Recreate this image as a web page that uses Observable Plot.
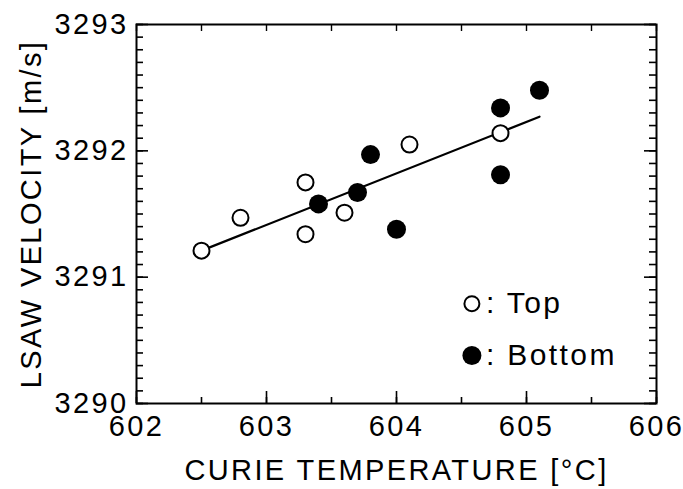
<!DOCTYPE html>
<html><head><meta charset="utf-8">
<script src="https://cdn.jsdelivr.net/npm/d3@7"></script>
<script src="https://cdn.jsdelivr.net/npm/@observablehq/plot@0.6"></script>
<style>
body{margin:0;background:#fff}
#chart svg{font-family:"Liberation Sans",Arial,Helvetica,sans-serif;letter-spacing:2.4px}
</style>
</head><body><div id="chart"></div>
<script>
const topX = [602.5, 602.8, 603.3, 603.3, 603.6, 604.1, 604.8];
const topY = [3291.21, 3291.47, 3291.75, 3291.34, 3291.51, 3292.05, 3292.14];
const bottomX = [603.4, 603.7, 603.8, 604.0, 604.8, 604.8, 605.1];
const bottomY = [3291.58, 3291.67, 3291.97, 3291.38, 3292.34, 3291.81, 3292.48];
const fitX = [602.5, 605.1];
const fitY = [3291.21, 3292.27];
const xTicks = [602, 603, 604, 605, 606];
const yTicks = [3290, 3291, 3292, 3293];
const xTitle = "CURIE TEMPERATURE [°C]";
const yTitle = "LSAW VELOCITY [m/s]";
const legendLabels = [": Top", ": Bottom"];
const legendX = [604.58, 604.58];
const legendY = [3290.79, 3290.38];

const minorX = d3.range(0, 9).map(i => 602 + i * 0.5);
const minorY = d3.range(0, 31).map(i => 3290 + i / 10);

const topPts = topX.map((x, i) => ({x, y: topY[i]}));
const botPts = bottomX.map((x, i) => ({x, y: bottomY[i]}));
const fit = fitX.map((x, i) => ({x, y: fitY[i]}));
const legend = legendLabels.map((t, i) => ({t, x: legendX[i], y: legendY[i]}));

const W = 683, H = 489, mL = 136, mR = 27, mT = 24, mB = 86;
const fw = W - mL - mR, fh = H - mT - mB;
const tc = "black";

const plot = Plot.plot({
  width: W, height: H,
  marginLeft: mL, marginRight: mR, marginTop: mT, marginBottom: mB,
  x: {domain: [602, 606], label: null},
  y: {domain: [3290, 3293], label: null},
  style: {background: "white", color: "black", fontSize: "29px"},
  marks: [
    Plot.tickX(minorX, {x: d => d, insetTop: fh - 6, stroke: tc, strokeWidth: 1.6}),
    Plot.tickX(xTicks, {x: d => d, insetTop: fh - 12, stroke: tc, strokeWidth: 1.6}),
    Plot.tickX(minorX, {x: d => d, insetBottom: fh - 7, stroke: tc, strokeWidth: 1.4}),
    Plot.tickY(minorY, {y: d => d, insetRight: fw - 7, stroke: tc, strokeWidth: 1.6}),
    Plot.tickY(yTicks, {y: d => d, insetRight: fw - 12, stroke: tc, strokeWidth: 1.6}),
    Plot.tickY(minorY, {y: d => d, insetLeft: fw - 7, stroke: tc, strokeWidth: 1.6}),
    Plot.tickY(yTicks, {y: d => d, insetLeft: fw - 12, stroke: tc, strokeWidth: 1.6}),
    Plot.axisX(xTicks, {anchor: "bottom", tickSize: 0, tickPadding: 12, tickFormat: d3.format("d"), fontSize: 29, label: null}),
    Plot.axisY(yTicks, {anchor: "left", tickSize: 0, tickPadding: 8, tickFormat: d3.format("d"), fontSize: 29, label: null}),
    Plot.frame({stroke: "black", strokeWidth: 2}),
    Plot.text([xTitle], {frameAnchor: "bottom", dy: 67, textAnchor: "middle", lineAnchor: "middle", fontSize: 29}),
    Plot.text([yTitle], {frameAnchor: "left", dx: -105, rotate: -90, textAnchor: "middle", lineAnchor: "middle", fontSize: 29}),
    Plot.line(fit, {x: "x", y: "y", stroke: "black", strokeWidth: 2.2}),
    Plot.dot(topPts, {x: "x", y: "y", r: 8, fill: "white", stroke: "black", strokeWidth: 2}),
    Plot.dot(botPts, {x: "x", y: "y", r: 9.5, fill: "black", stroke: "none"}),
    Plot.dot(legend.slice(0, 1), {x: "x", y: "y", r: 7.5, fill: "white", stroke: "black", strokeWidth: 2}),
    Plot.dot(legend.slice(1), {x: "x", y: "y", r: 9.5, fill: "black", stroke: "none"}),
    Plot.text(legend, {x: "x", y: "y", text: "t", dx: 14, textAnchor: "start", lineAnchor: "middle", fontSize: 30})
  ]
});
document.getElementById("chart").append(plot);
</script>
</body></html>
